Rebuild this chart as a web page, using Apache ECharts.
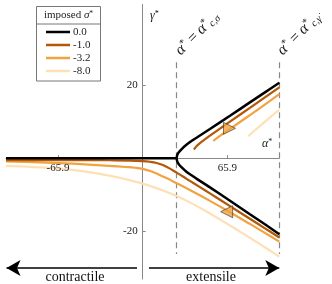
<!DOCTYPE html>
<html>
<head>
<meta charset="utf-8">
<script src="https://cdn.jsdelivr.net/npm/echarts@6/dist/echarts.min.js"></script>
<style>html,body{margin:0;padding:0;background:#fff}#c{width:332px;height:284px}</style>
</head>
<body>
<div id="c"></div>
<script>
// ---- data ----
const sigmaLabels = ['0.0', '-1.0', '-3.2', '-8.0'];
const xTickValues = [-65.9, 65.9];
const yTickValues = [-20, 20];
const criticalAlpha = [26.5, 106.4];      // alpha*_{c,sigma}, alpha*_{c,gammadot}

// sigma* = 0.0 (three branches)
const black_flat  = [[-106.4, 0], [26.5, 0]];
const black_upper = [[26.5, 0], [26.9, 0.87], [28.0, 1.56], [30.4, 2.51], [34.3, 3.74], [39.2, 4.97],
                     [44.6, 6.20], [52.4, 7.98], [68.0, 11.60], [83.5, 15.25], [95.2, 18.0], [106.4, 20.6]];
const black_lower = [[26.5, 0], [26.9, -0.87], [28.0, -1.56], [30.4, -2.51], [34.3, -3.74], [39.2, -4.95],
                     [44.6, -6.18], [52.4, -7.97], [68.0, -11.62], [83.5, -15.3], [95.2, -18.05], [106.4, -20.75]];
// sigma* = -1.0
const s1_lower = [[-106.4, -0.50], [-64.4, -0.50], [-40.0, -0.52], [-25.5, -0.55], [-10.0, -0.63], [0, -0.78],
                  [5.7, -0.97], [10.9, -1.30], [15.8, -1.88], [21.3, -2.85], [26.5, -3.95], [31.4, -5.0],
                  [36.8, -6.2], [44.6, -7.9], [52.4, -9.62], [68.0, -13.1], [83.5, -16.55], [95.2, -19.15], [106.4, -21.65]];
const s1_upper = [[39.9, 2.38], [42.3, 3.40], [44.6, 4.10], [52.4, 6.15], [68.0, 10.0], [83.5, 13.75],
                  [95.2, 16.6], [106.4, 19.35]];
// sigma* = -3.2
const s2_lower = [[-106.4, -0.85], [-85.0, -1.08], [-64.4, -1.35], [-45.0, -1.68], [-26.0, -2.08], [-13.0, -2.40],
                  [-6.0, -2.60], [0, -2.90], [6.0, -3.50], [12.0, -4.35], [19.0, -5.50], [26.5, -6.85],
                  [36.8, -8.70], [52.4, -11.65], [68.0, -14.75], [83.5, -17.95], [95.2, -20.4], [106.4, -22.8]];
const s2_upper = [[55.0, 4.70], [58.0, 5.55], [62.0, 6.55], [68.0, 8.0], [79.7, 10.85], [91.3, 13.7], [106.4, 17.5]];
// sigma* = -8.0
const s3_lower = [[-106.4, -2.10], [-91.0, -2.28], [-78.0, -2.52], [-65.0, -2.84], [-52.0, -3.30], [-39.0, -3.92],
                  [-26.0, -4.74], [-13.0, -5.75], [0, -6.95], [13.0, -8.45], [26.0, -10.27], [39.0, -12.48],
                  [52.0, -15.02], [65.0, -17.75], [78.0, -20.55], [91.0, -23.41], [106.4, -26.87]];
const s3_upper = [[82.2, 6.0], [87.4, 7.65], [93.6, 9.5], [99.9, 11.35], [106.4, 13.25]];
// direction markers on the sigma* = -3.2 branches
const markerRight = [[67.6, 8.17]];
const markerLeft  = [[65.4, -14.62]];
// region arrows at the bottom: [from, to] in alpha*, at gamma* level
const arrowLevel = -30;
const contractileArrow = [-4.4, -106.0];
const extensileArrow = [4.9, 106.4];

// ---- styling ----
const colors = ['#000000', '#b35806', '#f1a340', '#fee0b6'];
const widths = [2.5, 2.2, 2.2, 2.2];
const FONT = "'Liberation Serif', 'DejaVu Serif', serif";

function line(name, idx, data, extra) {
  return Object.assign({
    name: name, type: 'line', data: data, showSymbol: false, smooth: 0.4,
    color: colors[idx], lineStyle: { color: colors[idx], width: widths[idx] },
    z: 10 - idx, silent: true, animation: false
  }, extra || {});
}

const rotLabelRich = {
  i: { fontFamily: FONT, fontSize: 15.5, fontStyle: 'italic', fill: '#111', lineHeight: 17 },
  r: { fontFamily: FONT, fontSize: 15.5, fill: '#111', lineHeight: 17 },
  s: { fontFamily: FONT, fontSize: 10, fill: '#111', verticalAlign: 'top' },
  b: { fontFamily: FONT, fontSize: 10, fontStyle: 'italic', fill: '#111', verticalAlign: 'bottom' }
};
const xLabelStyle = { customValues: xTickValues, fontFamily: FONT, fontSize: 11, color: '#222', margin: 4,
                      formatter: v => v.toFixed(1) };

const chart = echarts.init(document.getElementById('c'), null, { renderer: 'canvas' });
const option = {
  animation: false,
  grid: { left: 6, right: 52.7, top: 4.5, height: 274.5, outerBoundsMode: 'none', containLabel: false },
  xAxis: [{
    type: 'value', min: -106.4, max: 106.4, position: 'bottom', offset: -120.8,
    axisLine: { onZero: false, lineStyle: { color: '#888', width: 1 } },
    axisTick: { show: true, inside: true, length: 3, customValues: xTickValues, lineStyle: { color: '#888' } },
    axisLabel: { show: false },
    splitLine: { show: false }
  }, {
    type: 'value', min: -106.4, max: 106.4, position: 'bottom', offset: -120.8, z: 30,
    axisLine: { show: false, onZero: false }, axisTick: { show: false },
    axisLabel: xLabelStyle, splitLine: { show: false }
  }],
  yAxis: {
    type: 'value', min: -33, max: 42, position: 'left', offset: -136.7,
    axisLine: { onZero: false, lineStyle: { color: '#888', width: 1 } },
    axisTick: { show: true, inside: true, length: 3, customValues: yTickValues, lineStyle: { color: '#888' } },
    axisLabel: { customValues: yTickValues, fontFamily: FONT, fontSize: 11, color: '#222', margin: 5,
                 formatter: v => String(v) },
    splitLine: { show: false }
  },
  legend: {
    data: sigmaLabels, orient: 'vertical', left: 46, top: 25.5, itemWidth: 24, itemHeight: 2.5,
    itemGap: 0, icon: 'rect', selectedMode: false, padding: 0,
    textStyle: { fontFamily: FONT, fontSize: 11, color: '#222', lineHeight: 13, padding: [0, 0, 0, -2] }
  },
  graphic: [
    { type: 'rect', shape: { x: 36.5, y: 6.5, width: 64, height: 74.5 },
      style: { fill: '#fff', stroke: '#777', lineWidth: 1 }, z: -1 },
    { type: 'line', shape: { x1: 36.5, y1: 24, x2: 100.5, y2: 24 }, style: { stroke: '#777', lineWidth: 1 }, z: -1 },
    { type: 'text', x: 68.5, y: 15.5, style: {
        text: '{r|imposed }{i|σ}{s|*}', textAlign: 'center', textVerticalAlign: 'middle',
        rich: { r: { fontFamily: FONT, fontSize: 11, fill: '#222' },
                i: { fontFamily: FONT, fontSize: 11, fontStyle: 'italic', fill: '#222' },
                s: { fontFamily: FONT, fontSize: 7.5, fill: '#222', verticalAlign: 'top' } } } },
    { type: 'text', x: 150, y: 16, style: {
        text: '{i|γ̇}{s|*}', textAlign: 'left', textVerticalAlign: 'middle',
        rich: { i: { fontFamily: FONT, fontSize: 12, fontStyle: 'italic', fill: '#222' },
                s: { fontFamily: FONT, fontSize: 8, fill: '#222', verticalAlign: 'top' } } } },
    { type: 'text', x: 262, y: 143.5, style: {
        text: '{i|α}{s|*}', textAlign: 'left', textVerticalAlign: 'middle',
        rich: { i: { fontFamily: FONT, fontSize: 12, fontStyle: 'italic', fill: '#222' },
                s: { fontFamily: FONT, fontSize: 8, fill: '#222', verticalAlign: 'top' } } } },
    { type: 'text', x: 184, y: 59, rotation: Math.PI / 4, style: {
        text: '{i|α}{s|*}{r| = }{i|α}{s|*}{b|c,σ}', textAlign: 'left', textVerticalAlign: 'bottom',
        rich: rotLabelRich } },
    { type: 'text', x: 286, y: 59, rotation: Math.PI / 4, style: {
        text: '{i|α}{s|*}{r| = }{i|α}{s|*}{b|c,γ̇}', textAlign: 'left', textVerticalAlign: 'bottom',
        rich: rotLabelRich } },
    { type: 'text', x: 75, y: 277.5, style: { text: 'contractile', textAlign: 'center', textVerticalAlign: 'middle',
        fontFamily: FONT, fontSize: 14, fill: '#111' } },
    { type: 'text', x: 211, y: 277.5, style: { text: 'extensile', textAlign: 'center', textVerticalAlign: 'middle',
        fontFamily: FONT, fontSize: 14, fill: '#111' } }
  ],
  series: [
    line(sigmaLabels[3], 3, s3_lower),
    line(sigmaLabels[3], 3, s3_upper),
    line(sigmaLabels[2], 2, s2_lower),
    line(sigmaLabels[2], 2, s2_upper),
    line(sigmaLabels[1], 1, s1_lower),
    line(sigmaLabels[1], 1, s1_upper),
    line(sigmaLabels[0], 0, black_flat, {
      smooth: false,
      markLine: {
        silent: true, symbol: ['none', 'none'], animation: false,
        label: { show: false },
        lineStyle: { color: '#888', width: 1.2, type: [6, 4] },
        data: criticalAlpha.map(a => [{ coord: [a, 26.2] }, { coord: [a, -26.2] }])
      }
    }),
    line(sigmaLabels[0], 0, black_upper),
    line(sigmaLabels[0], 0, black_lower, {
      clip: false,
      markLine: {
        silent: true, symbol: ['none', 'arrow'], symbolSize: [12, 14], animation: false,
        label: { show: false },
        lineStyle: { color: '#000', width: 1.5, type: 'solid' },
        data: [
          [{ coord: [contractileArrow[0], arrowLevel] }, { coord: [contractileArrow[1], arrowLevel] }],
          [{ coord: [extensileArrow[0], arrowLevel] }, { coord: [extensileArrow[1], arrowLevel] }]
        ]
      }
    }),
    { type: 'scatter', data: markerRight, symbol: 'triangle', symbolSize: 12, symbolRotate: -90, z: 20,
      itemStyle: { color: '#f1a340', borderColor: '#333', borderWidth: 0.8 }, silent: true },
    { type: 'scatter', data: markerLeft, symbol: 'triangle', symbolSize: 12, symbolRotate: 90, z: 20,
      itemStyle: { color: '#f1a340', borderColor: '#333', borderWidth: 0.8 }, silent: true }
  ]
};
chart.setOption(option);
</script>
</body>
</html>
